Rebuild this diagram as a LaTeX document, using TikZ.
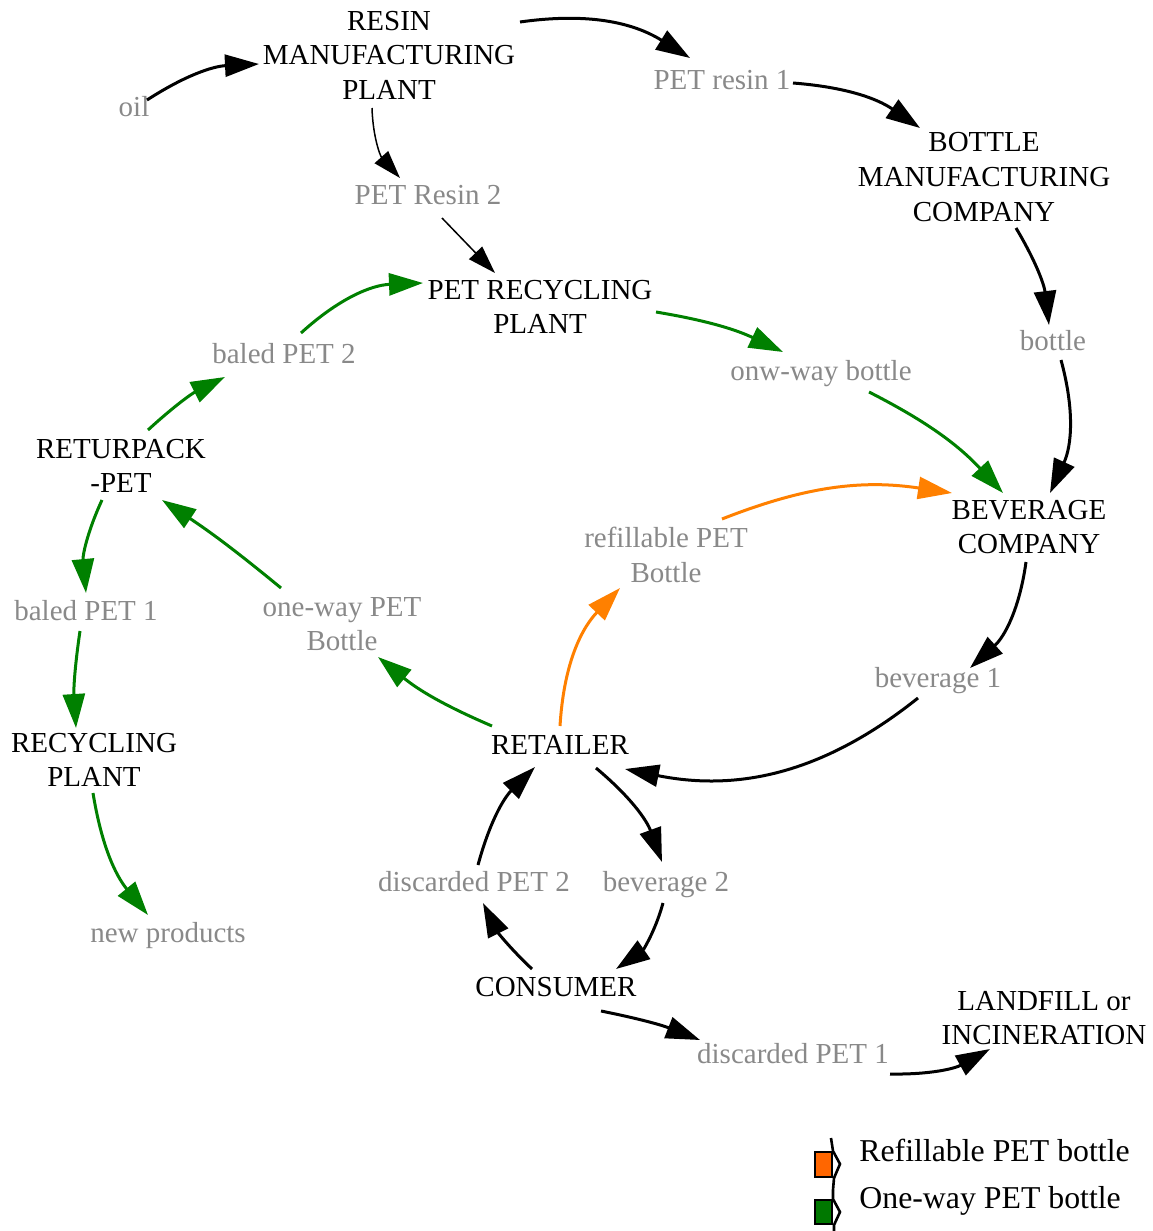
\documentclass[tikz,border=0pt]{standalone}
\usepackage{fontspec}
\setmainfont{Liberation Serif}
\usetikzlibrary{arrows.meta,calc}
\definecolor{gtext}{RGB}{137,137,137}
\definecolor{fgreen}{RGB}{0,128,0}
\definecolor{forange}{RGB}{255,128,0}
\definecolor{lorange}{RGB}{255,102,0}
\definecolor{lgreen}{RGB}{0,120,0}
\tikzset{
  base/.style={font=\fontsize{14.5}{17.3}\selectfont, inner sep=0pt, align=center},
  one/.style={text height=9.6pt, text depth=0pt},
  actor/.style={base, text=black},
  flow/.style={base, text=gtext},
  conn/.style={line width=1.5pt, -{Triangle[length=17pt,width=11pt]}},
  thinconn/.style={line width=0.75pt, -{Triangle[length=14pt,width=9pt]}},
  green/.style={conn, draw=fgreen},
  orange/.style={conn, draw=forange},
  legtext/.style={font=\fontsize{15.9}{18}\selectfont, inner sep=0pt, text height=10.5pt, text depth=0pt, anchor=west},
}
\begin{document}
\begin{tikzpicture}[x=0.5pt,y=-0.5pt]
\useasboundingbox (0,0) rectangle (1152,1231);
% nodes
\node[actor] (resin) at (389,55) {RESIN\\MANUFACTURING\\PLANT};
\node[flow,one] (oil) at (134,107) {oil};
\node[flow,one] (pr1) at (722,80) {PET resin 1};
\node[actor] (bmc) at (984,177) {BOTTLE\\MANUFACTURING\\COMPANY};
\node[flow,one] (pr2) at (428,195) {PET Resin 2};
\node[actor] (prp) at (540,307) {PET RECYCLING\\PLANT};
\node[flow,one] (bottle) at (1053,341) {bottle};
\node[flow,one] (bp2) at (284,354) {baled PET 2};
\node[flow,one] (owb) at (821,371) {onw-way bottle};
\node[actor] (rp) at (121,466) {RETURPACK\\-PET};
\node[actor] (bev) at (1029,527) {BEVERAGE\\COMPANY};
\node[flow] (refill) at (666,555) {refillable PET\\Bottle};
\node[flow,one] (bp1) at (86,611) {baled PET 1};
\node[flow] (opb) at (342,624) {one-way PET\\Bottle};
\node[flow,one] (bev1) at (938,678) {beverage 1};
\node[actor] (rcp) at (94,760) {RECYCLING\\PLANT};
\node[actor,one] (ret) at (560,745) {RETAILER};
\node[flow,one] (dp2) at (474,882) {discarded PET 2};
\node[flow,one] (bev2) at (666,882) {beverage 2};
\node[flow,one] (newp) at (168,933) {new products};
\node[actor,one] (cons) at (556,987) {CONSUMER};
\node[actor] (land) at (1044,1018) {LANDFILL or\\INCINERATION};
\node[flow,one] (dp1) at (793,1054) {discarded PET 1};
% black connectors
\draw[conn] ($(oil)+(13,-7)$) to[bend left=15] ($(resin)+(-130,9)$);
\draw[conn] ($(resin)+(131,-33)$) to[bend left=20] ($(pr1)+(-32,-22)$);
\draw[conn] ($(pr1)+(71,3)$) to[bend left=15] ($(bmc)+(-64,-49)$);
\draw[thinconn] ($(resin)+(-17,53)$) to[bend right=20] ($(pr2)+(-28,-17)$);
\draw[thinconn] ($(pr2)+(14,23)$) to ($(prp)+(-45,-34)$);
\draw[conn] ($(bmc)+(32,51)$) to[bend left=12] ($(bottle)+(-4,-16)$);
\draw[conn] ($(bottle)+(8,19)$) to[bend left=20] ($(bev)+(21,-34)$);
\draw[conn] ($(bev)+(-3,35)$) to[bend left=20] ($(bev1)+(32,-10)$);
\draw[conn] ($(bev1)+(-20,20)$) to[bend left=25] ($(ret)+(65,24)$);
\draw[conn] ($(ret)+(36,23)$) to[bend left=15] ($(bev2)+(-4,-20)$);
\draw[conn] ($(bev2)+(-3,21)$) to[bend left=20] ($(cons)+(60,-18)$);
\draw[conn] ($(cons)+(-24,-18)$) to[bend left=10] ($(dp2)+(9,21)$);
\draw[conn] ($(dp2)+(4,-17)$) to[bend left=15] ($(ret)+(-25,22)$);
\draw[conn] ($(cons)+(45,24)$) to[bend left=5] ($(dp1)+(-93,-14)$);
\draw[conn] ($(dp1)+(97,20)$) to[bend right=15] ($(land)+(-54,31)$);
% green connectors
\draw[green] ($(prp)+(116,5)$) to[bend left=8] ($(owb)+(-38,-19)$);
\draw[green] ($(owb)+(48,21)$) to[bend left=10] ($(bev)+(-26,-34)$);
\draw[green] ($(bp2)+(17,-21)$) to[bend left=20] ($(prp)+(-117,-24)$);
\draw[green] ($(rp)+(27,-36)$) to[bend left=8] ($(bp2)+(-59,23)$);
\draw[green] ($(rp)+(-19,34)$) to[bend right=15] ($(bp1)+(0,-18)$);
\draw[green] ($(bp1)+(-6,20)$) to[bend right=6] ($(rcp)+(-18,-32)$);
\draw[green] ($(rcp)+(-1,33)$) to[bend right=15] ($(newp)+(-20,-18)$);
\draw[green] ($(opb)+(-61,-36)$) to[bend right=3] ($(rp)+(41,34)$);
\draw[green] ($(ret)+(-68,-19)$) to[bend left=8] ($(opb)+(36,33)$);
% orange connectors
\draw[orange] ($(ret)+(0,-19)$) to[bend left=20] ($(refill)+(-46,33)$);
\draw[orange] ($(refill)+(56,-36)$) to[bend left=15] ($(bev)+(-77,-34)$);
% legend
\filldraw[fill=lorange, draw=black, line width=0.7pt] (815,1152) rectangle (832,1177);
\draw[black, line width=1.3pt, line join=miter] (831,1138) -- (833,1151) -- (840,1164) -- (834,1178) -- (833,1190);
\filldraw[fill=lgreen, draw=black, line width=0.7pt] (815,1200) rectangle (832,1224);
\draw[black, line width=1.3pt, line join=miter] (833,1190) -- (833,1199) -- (840,1212) -- (834,1225) -- (834,1231);
\node[legtext] (leg1) at (859,1151) {Refillable PET bottle};
\node[legtext] (leg2) at (859,1198) {One-way PET bottle};
\end{tikzpicture}
\end{document}
